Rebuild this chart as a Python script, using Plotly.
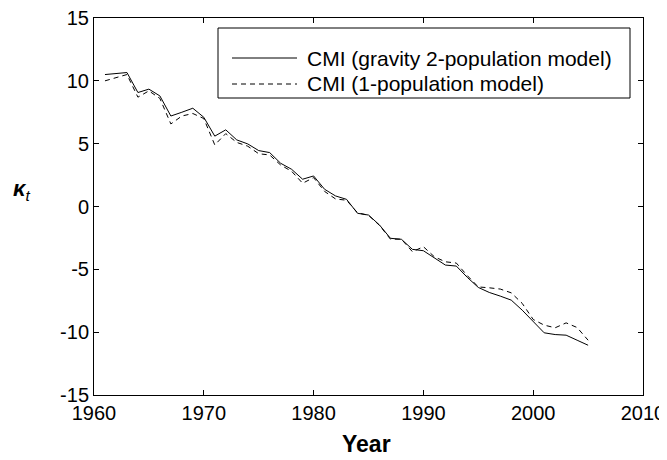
import plotly.graph_objects as go

years = list(range(1961, 2006))
cmi_gravity = [10.5, 10.55, 10.66, 9.07, 9.34, 8.8, 7.2, 7.5, 7.82, 7.1,
               5.6, 6.1, 5.3, 4.98, 4.45, 4.29, 3.44, 2.96, 2.17, 2.43,
               1.37, 0.84, 0.57, -0.54, -0.68, -1.47, -2.53, -2.61, -3.41, -3.52,
               -4.1, -4.66, -4.74, -5.64, -6.44, -6.84, -7.13, -7.45, -8.25, -9.18,
               -10.05, -10.19, -10.24, -10.64, -11.04]
cmi_onepop = [10.0, 10.25, 10.5, 8.7, 9.2, 8.6, 6.57, 7.2, 7.4, 7.0,
              4.9, 5.8, 5.1, 4.8, 4.2, 4.1, 3.3, 2.8, 1.85, 2.3,
              1.2, 0.6, 0.5, -0.5, -0.7, -1.5, -2.6, -2.6, -3.6, -3.2,
              -4.0, -4.4, -4.5, -5.5, -6.4, -6.47, -6.57, -6.87, -7.71, -8.99,
              -9.44, -9.65, -9.26, -9.63, -10.64]
series_names = ["CMI (gravity 2-population model)", "CMI (1-population model)"]
x_ticks = [1960, 1970, 1980, 1990, 2000, 2010]
x_ticktext = ["1960", "1970", "1980", "1990", "2000", "2010"]
y_ticks = [-15, -10, -5, 0, 5, 10, 15]
y_ticktext = ["-15", "-10", "-5", "0", "5", "10", "15"]

FONT = "Liberation Sans, Arial, Helvetica, sans-serif"
DASH = "5px,4px"

fig = go.Figure()
fig.add_trace(go.Scatter(x=years, y=cmi_gravity, mode="lines", name=series_names[0],
                         line=dict(color="black", width=1), showlegend=False))
fig.add_trace(go.Scatter(x=years, y=cmi_onepop, mode="lines", name=series_names[1],
                         line=dict(color="black", width=1, dash=DASH), showlegend=False))

# the page has an 8px body margin; compensate so the plot lands where the reference has it
OFF = 8
W, H = 667 - OFF, 460 - OFF
PL, PR, PT, PB = 94, 643, 18, 395          # plot area in page pixels
L, T = PL - OFF, PT - OFF
R, B = W - (PR - OFF), H - (PB - OFF)
pw, ph = PR - PL, PB - PT

def px(xp):
    return (xp - PL) / pw

def py(yp):
    return (PB - yp) / ph

axis_common = dict(showgrid=False, zeroline=False, showline=True, linecolor="black",
                   linewidth=1, mirror="ticks", ticks="inside", ticklen=5,
                   tickcolor="black", tickwidth=1, ticklabeloverflow="allow",
                   tickfont=dict(family=FONT, size=20, color="black"))

fig.update_layout(
    width=W, height=H,
    margin=dict(l=L, r=R, t=T, b=B, autoexpand=False),
    paper_bgcolor="white", plot_bgcolor="white",
    xaxis=dict(range=[1960, 2010], tickvals=x_ticks, ticktext=x_ticktext, **axis_common),
    yaxis=dict(range=[-15, 15], tickvals=y_ticks, ticktext=y_ticktext, **axis_common),
)

# x-axis title
fig.add_annotation(text="<b>Year</b>", xref="paper", yref="paper",
                   x=px(366), y=py(459), yanchor="bottom", showarrow=False,
                   font=dict(family=FONT, size=23, color="black"))
# y-axis label kappa_t
fig.add_annotation(text="<b><i>κ</i></b><sub><i>t</i></sub>", xref="paper", yref="paper",
                   x=px(11), y=py(190), xanchor="left", showarrow=False,
                   font=dict(family=FONT, size=22, color="black"))

# legend box
lx0, lx1, ly0, ly1 = 218, 630, 28, 98
fig.add_shape(type="rect", xref="paper", yref="paper",
              x0=px(lx0), x1=px(lx1), y0=py(ly1), y1=py(ly0),
              line=dict(color="black", width=1), fillcolor="white", layer="above")
rows = [58, 84]
dashes = ["solid", DASH]
for name, yrow, d in zip(series_names, rows, dashes):
    fig.add_shape(type="line", xref="paper", yref="paper",
                  x0=px(232), x1=px(297), y0=py(yrow), y1=py(yrow),
                  line=dict(color="black", width=1, dash=d), layer="above")
    fig.add_annotation(text=name, xref="paper", yref="paper",
                       x=px(305), y=py(yrow), xanchor="left", yanchor="middle",
                       showarrow=False,
                       font=dict(family=FONT, size=21, color="black"))

fig.write_html("out.html")
